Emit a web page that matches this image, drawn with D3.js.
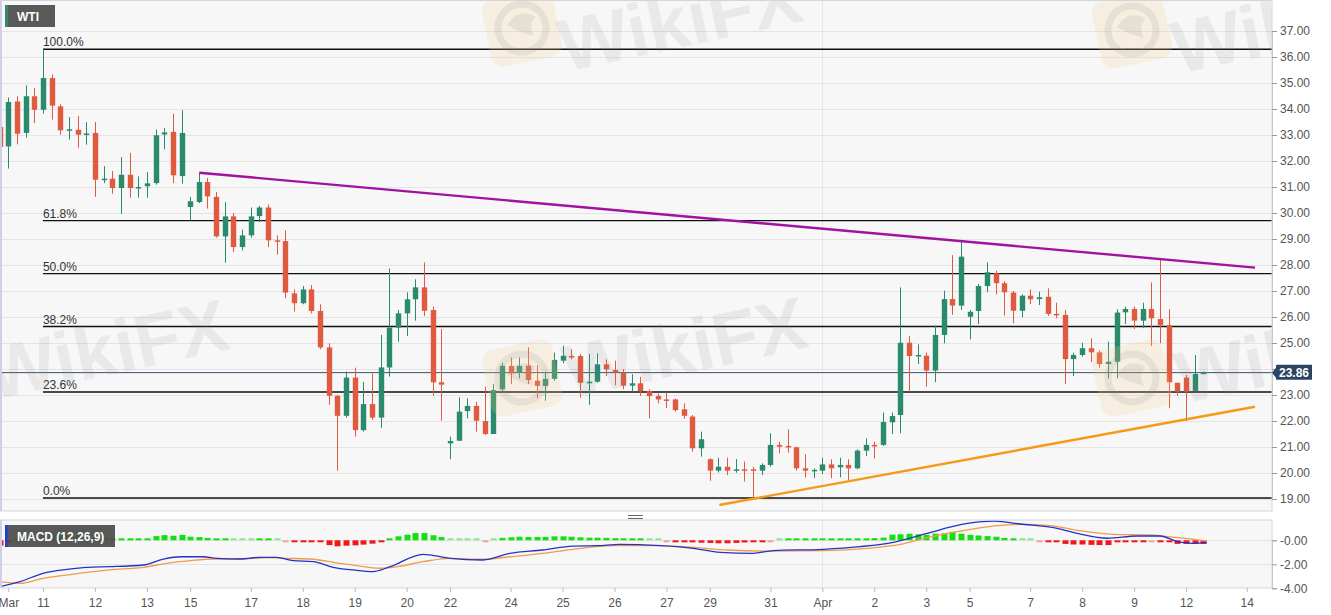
<!DOCTYPE html>
<html><head><meta charset="utf-8">
<script src="https://cdn.jsdelivr.net/npm/d3@7"></script>
<style>body{margin:0;background:#fff;}svg{display:block;font-family:"Liberation Sans",Arial,sans-serif;}</style>
</head><body>
<svg id="chart" width="1331" height="615"></svg>
<script>
// ---------- DATA (4H candles, index -1 .. 138) ----------
const firstIndex = -1;
const opens = [33.31,32.56,34.29,33.08,34.49,33.97,35.19,34.1,33.2,33.2,33.05,33.08,31.28,31.32,30.96,31.47,30.99,31.03,31.15,33.02,33.12,31.42,30.23,30.42,31.19,30.62,29.1,29.87,28.69,29.14,29.88,30.21,28.95,28.92,26.91,26.53,27.06,26.23,24.83,22.97,22.2,23.67,21.65,22.65,22.13,24.06,25.59,26.14,26.68,27.14,26.27,23.49,21.14,21.24,22.38,22.58,22.0,21.5,23.22,24.12,23.86,24.13,23.55,23.35,23.62,24.32,24.5,24.5,23.47,23.51,24.18,23.96,23.87,23.36,23.45,23.15,22.96,22.83,22.83,22.45,22.17,20.95,20.53,20.09,20.24,20.12,20.14,20.14,20.09,20.31,21.08,21.04,20.99,20.18,20.08,20.09,20.33,20.22,20.31,20.18,20.86,21.08,21.08,21.95,22.23,25.01,24.5,24.51,23.94,25.31,26.69,26.44,26.01,26.23,27.19,27.68,27.3,26.94,26.24,26.82,26.69,26.78,26.12,26.08,24.38,24.54,24.8,24.64,24.19,24.28,26.18,26.31,25.86,26.31,25.92,25.69,23.47,23.67,23.16,23.83];
const highs = [33.5,34.44,34.49,34.91,34.81,36.3,35.33,34.18,33.69,33.73,33.5,33.5,31.8,31.62,32.15,32.31,31.41,31.58,33.21,33.27,33.82,33.95,30.62,31.54,31.35,30.81,30.42,30.0,29.36,30.21,30.27,30.33,29.14,29.33,27.06,27.19,27.23,26.49,24.99,23.0,23.9,24.05,23.51,23.83,25.31,27.87,26.27,26.95,27.45,28.1,26.4,25.54,21.4,22.91,22.87,22.74,23.32,23.42,24.24,24.44,24.44,24.83,24.15,23.9,24.63,24.9,24.76,24.58,24.58,24.6,24.37,24.32,23.99,23.8,23.7,23.22,23.06,23.09,22.87,22.68,22.23,21.59,20.57,20.59,20.59,20.54,20.44,20.24,20.37,21.53,21.2,21.68,21.01,20.72,20.18,20.59,20.53,20.59,20.53,20.91,21.33,21.2,22.32,22.32,27.14,25.27,24.95,24.63,25.67,27.01,28.38,28.9,26.27,27.27,28.1,27.78,27.38,27.0,26.87,27.06,26.97,27.1,26.55,26.27,24.63,25.01,25.18,24.71,25.05,26.3,26.4,26.4,26.55,27.33,28.22,26.3,23.47,23.77,24.54,23.9];
const lows = [32.28,31.71,32.64,32.9,33.46,33.82,33.59,33.01,32.82,32.51,32.63,30.62,31.15,30.74,29.97,30.59,30.59,30.59,31.09,32.45,31.15,31.13,29.72,30.38,30.17,29.05,28.09,28.5,28.56,29.05,29.65,28.69,28.4,26.72,26.21,26.49,26.14,24.76,22.62,20.09,22.13,21.4,21.59,22.04,21.74,23.71,25.05,25.27,25.86,26.04,22.97,22.01,20.53,21.24,22.1,21.59,21.46,21.5,23.13,23.42,23.64,23.42,22.87,22.78,23.55,24.22,24.37,22.9,22.62,23.47,23.73,23.38,23.22,23.13,22.96,22.1,22.68,22.49,22.36,22.08,20.82,20.63,19.7,20.02,19.92,20.01,19.67,19.03,19.92,20.24,20.76,20.78,20.09,19.83,19.8,19.96,19.8,19.83,19.73,20.14,20.65,20.56,21.04,21.5,21.53,23.13,24.19,23.32,23.49,24.99,26.08,26.27,25.14,25.73,26.95,26.87,26.05,25.76,25.99,26.5,26.46,26.04,25.95,23.42,23.73,24.47,24.27,24.05,23.64,23.64,25.73,25.54,25.57,24.88,24.99,22.49,22.97,22.0,23.15,23.8];
const closes = [32.54,34.27,33.05,34.49,33.97,35.19,34.13,33.18,33.22,33.01,33.06,31.28,31.32,30.96,31.47,30.96,31.0,31.14,32.99,33.1,31.45,33.08,30.45,31.19,30.64,29.1,29.87,28.69,29.14,29.87,30.21,28.95,28.9,26.94,26.53,27.06,26.23,24.83,22.97,22.2,23.67,21.65,22.65,22.13,24.06,25.59,26.14,26.68,27.14,26.24,23.49,23.4,21.23,22.36,22.58,22.01,21.5,23.19,24.12,23.83,24.12,23.58,23.35,23.62,24.35,24.51,24.47,23.47,23.51,24.18,23.99,23.87,23.36,23.45,23.15,22.96,22.83,22.81,22.42,22.2,20.95,21.3,20.09,20.24,20.09,20.14,20.09,20.12,20.31,21.08,21.01,20.99,20.18,20.09,20.12,20.33,20.18,20.31,20.18,20.86,21.08,21.04,21.96,22.19,25.01,24.5,24.54,23.94,25.31,26.69,26.44,28.32,26.2,27.19,27.72,27.3,26.95,26.24,26.82,26.68,26.76,26.12,26.08,24.38,24.54,24.8,24.64,24.19,24.28,26.17,26.31,25.86,26.31,25.95,25.69,23.49,23.13,23.13,23.81,23.86];

const priceTicks = [19,20,21,22,23,24,25,26,27,28,29,30,31,32,33,34,35,36,37];
const dayLabels = ["Mar","11","12","13","15","17","18","19","20","22","24","25","26","27","29","31","Apr","2","3","5","7","8","9","12","14"];
const dayIndex  = [0,4,10,16,21,28,34,40,46,51,58,64,70,76,81,88,94,100,106,111,118,124,130,136,143];
const monthLineIndex = [94];

const fibLevels = [100, 61.8, 50, 38.2, 23.6, 0];
const swingHigh = 36.3, swingLow = 19.04, swingIndex = 4;

const resistIdx = [22.05, 143.96], resistVal = [31.55, 27.9];
const supportIdx = [82.1, 143.96], supportVal = [18.77, 22.55];
const lastPrice = 23.86;

const macdIdx = [-0.96,1.35,4,6.8,9.1,11.7,15.6,17.9,20,22.5,24.1,26.8,29,31,32.9,35.2,37.5,39.8,42.1,44.1,47.9,51,54.8,57.9,61.7,65.2,68,70.6,75.3,79.1,82.2,86,88.3,94.1,98.3,102.2,106.1,110.1,113.9,116.8,121.1,123.7,126.9,130.3,133,135,136.8,138.4];
const macdVals = [-3.87,-3.45,-2.75,-2.42,-2.25,-2.2,-2.06,-1.56,-1.37,-1.37,-1.5,-1.56,-1.42,-1.42,-1.7,-1.78,-2.25,-2.47,-2.61,-2.2,-1.17,-1.5,-1.64,-1.09,-0.81,-0.48,-0.45,-0.34,-0.45,-0.67,-1.0,-1.09,-0.86,-0.75,-0.53,-0.17,0.58,1.33,1.6,1.36,1.0,0.53,0.17,0.36,0.36,-0.11,-0.25,-0.2];
const signalIdx = [-0.96,1.35,4,6.8,9.1,11.7,15.6,18.3,21,23.6,26.8,29.9,32.2,35.2,37.7,39.8,42.9,44.9,47.9,51,54.8,57.9,61.7,65.2,69.8,75.3,79.1,83,88,94.1,99.2,103,106.1,110.1,113.9,116.8,120.3,123.7,127.6,131.8,135,138.4];
const signalVals = [-3.45,-3.59,-3.17,-2.89,-2.67,-2.47,-2.25,-1.92,-1.7,-1.56,-1.56,-1.45,-1.5,-1.58,-1.86,-2.06,-2.33,-2.2,-1.78,-1.5,-1.58,-1.37,-1.09,-0.75,-0.45,-0.45,-0.59,-0.81,-0.9,-0.86,-0.67,-0.34,0.22,0.78,1.2,1.33,1.22,0.8,0.5,0.44,0.22,-0.06];
const histVals = [-0.45,
 -0.1,0.1,0.25,0.35,0.42,0.45,0.47,0.45,0.42,0.36,
 0.28,0.15,0.14,0.14,0.14,0.14,0.16,0.35,0.43,0.38,
 0.45,0.3,0.27,0.2,0.08,0.05,0.01,0.01,0.04,0.05,
 0.05,0.04,-0.03,-0.12,-0.12,-0.12,-0.14,-0.4,-0.5,-0.45,
 -0.42,-0.36,-0.28,-0.08,0.12,0.33,0.47,0.6,0.6,0.42,
 0.27,0.04,0.02,0.02,0.02,-0.04,0.03,0.2,0.25,0.3,
 0.28,0.28,0.28,0.33,0.33,0.3,0.25,0.22,0.22,0.2,
 0.18,0.14,0.1,0.06,0.03,0.02,-0.03,-0.05,-0.1,-0.17,
 -0.2,-0.22,-0.25,-0.25,-0.22,-0.18,-0.12,-0.08,-0.03,0.02,
 0.05,0.06,0.06,0.07,0.07,0.08,0.08,0.1,0.12,0.15,
 0.18,0.22,0.47,0.5,0.55,0.5,0.45,0.55,0.58,0.7,
 0.55,0.45,0.4,0.35,0.3,0.2,0.1,0.04,0.01,-0.03,
 -0.08,-0.12,-0.3,-0.35,-0.35,-0.38,-0.4,-0.4,-0.15,-0.12,
 -0.12,-0.06,-0.04,-0.05,-0.15,-0.3,-0.3,-0.3,-0.3];
const macdTicks = [0,-2,-4];
const macdTickLabels = ["-0.00","-2.00","-4.00"];

// ---------- LAYOUT ----------
const W = 1331, H = 615;
const plotL = 0.5, plotR = 1272;
const mainT = 0.5, mainB = 511;
const macdT = 520, macdB = 588;
const GREEN = "#2a8a6d", RED = "#e05a40";

const svg = d3.select("#chart");
const x = d3.scaleLinear().domain([0,143]).range([8.3,1246.7]);
const y = d3.scaleLinear().domain([19,37]).range([499,31]);
const ym = d3.scaleLinear().domain([0,-4]).range([540.3,588.3]);

svg.append("rect").attr("width",W).attr("height",H).attr("fill","#fff");
const defs = svg.append("defs");
defs.append("clipPath").attr("id","clipMain").append("rect")
  .attr("x",plotL).attr("y",mainT).attr("width",plotR-plotL).attr("height",mainB-mainT);
defs.append("clipPath").attr("id","clipMacd").append("rect")
  .attr("x",plotL).attr("y",macdT).attr("width",plotR-plotL).attr("height",macdB-macdT);

svg.append("rect").attr("x",plotL).attr("y",mainT).attr("width",plotR-plotL).attr("height",mainB-mainT).attr("fill","#f7f7f7");
svg.append("rect").attr("x",plotL).attr("y",macdT).attr("width",plotR-plotL).attr("height",macdB-macdT).attr("fill","#f7f7f7");

const gMain = svg.append("g").attr("clip-path","url(#clipMain)");
const gMacd = svg.append("g").attr("clip-path","url(#clipMacd)");

// grid
gMain.selectAll(".hg").data(priceTicks).enter().append("line")
  .attr("x1",plotL).attr("x2",plotR).attr("y1",d=>Math.round(y(d))+0.5).attr("y2",d=>Math.round(y(d))+0.5)
  .attr("stroke","#e4e4e4").attr("stroke-width",1);
gMain.selectAll(".vg").data(monthLineIndex).enter().append("line")
  .attr("x1",d=>Math.round(x(d))+0.5).attr("x2",d=>Math.round(x(d))+0.5).attr("y1",mainT).attr("y2",mainB)
  .attr("stroke","#e6e6e6");
gMacd.selectAll(".hgm").data(macdTicks).enter().append("line")
  .attr("x1",plotL).attr("x2",plotR).attr("y1",d=>Math.round(ym(d))+0.5).attr("y2",d=>Math.round(ym(d))+0.5)
  .attr("stroke","#e2e2e2");
gMacd.selectAll(".vgm").data(monthLineIndex).enter().append("line")
  .attr("x1",d=>Math.round(x(d))+0.5).attr("x2",d=>Math.round(x(d))+0.5).attr("y1",macdT).attr("y2",macdB)
  .attr("stroke","#e6e6e6");

// watermarks
function watermark(g, lx, ly, tx, ty, showLogo){
  const w = g.append("g");
  if(showLogo){
    const lg = w.append("g").attr("transform",`translate(${lx},${ly}) rotate(-12)`);
    lg.append("rect").attr("x",-36).attr("y",-34).attr("width",72).attr("height",68).attr("rx",12)
      .attr("fill","#f6d48a").attr("opacity",0.2);
    lg.append("circle").attr("r",24).attr("fill","none").attr("stroke","#8a8080").attr("stroke-width",7).attr("opacity",0.14);
    lg.append("path").attr("d","M-14,-6 Q0,-22 16,-8 Q6,-2 10,10 Q-4,4 -14,-6Z").attr("fill","#8a8080").attr("opacity",0.14);
  }
  w.append("text").attr("transform",`translate(${tx},${ty}) rotate(-12)`)
    .attr("font-size",74).attr("font-weight","bold").attr("fill","#8a8080").attr("opacity",0.12)
    .text("WikiFX");
}
const gWM = svg.append("g").attr("clip-path","url(#clipMain)");
watermark(gWM, 522, 28, 565, 72, true);
watermark(gWM, 1132, 30, 1178, 74, true);
watermark(gWM, -60, 370, -8, 400, false);
watermark(gWM, 522, 378, 570, 398, true);
watermark(gWM, 1132, 378, 1182, 404, true);

// fibonacci retracement
const fibData = fibLevels.map(l => ({l, p: swingLow + (swingHigh-swingLow)*l/100}));
gMain.selectAll(".fib").data(fibData).enter().append("line")
  .attr("x1",x(swingIndex)).attr("x2",plotR).attr("y1",d=>y(d.p)).attr("y2",d=>y(d.p))
  .attr("stroke","#111").attr("stroke-width",1.4);
gMain.selectAll(".fibt").data(fibData).enter().append("text")
  .attr("x",x(swingIndex)).attr("y",d=>y(d.p)-3).attr("font-size",12).attr("fill","#333")
  .text(d=>d.l.toFixed(1)+"%");

// last price line
gMain.append("line").attr("x1",plotL).attr("x2",plotR).attr("y1",y(lastPrice)).attr("y2",y(lastPrice))
  .attr("stroke","#3a5070").attr("stroke-width",1);

// candles
const candles = opens.map((o,k)=>({i:firstIndex+k,o,h:highs[k],l:lows[k],c:closes[k]}));
const bw = 5.4;
const cg = gMain.append("g");
cg.selectAll(".wick").data(candles).enter().append("line")
  .attr("x1",d=>Math.round(x(d.i))+0.5).attr("x2",d=>Math.round(x(d.i))+0.5)
  .attr("y1",d=>y(d.h)).attr("y2",d=>y(d.l))
  .attr("stroke",d=>d.c>=d.o?GREEN:RED).attr("stroke-width",1);
cg.selectAll(".body").data(candles).enter().append("rect")
  .attr("x",d=>Math.round(x(d.i))+0.5-bw/2).attr("width",bw)
  .attr("y",d=>Math.min(y(d.o),y(d.c)))
  .attr("height",d=>Math.max(1.5,Math.abs(y(d.o)-y(d.c))))
  .attr("fill",d=>d.c>=d.o?GREEN:RED);

// trend lines
const lineP = d3.line().x(d=>x(d[0])).y(d=>y(d[1]));
gMain.append("path").attr("d",lineP(d3.zip(resistIdx,resistVal)))
  .attr("stroke","#a0129f").attr("stroke-width",2.4).attr("fill","none");
gMain.append("path").attr("d",lineP(d3.zip(supportIdx,supportVal)))
  .attr("stroke","#f59a18").attr("stroke-width",2.4).attr("fill","none");

// main panel border
svg.append("rect").attr("x",plotL).attr("y",mainT).attr("width",plotR-plotL).attr("height",mainB-mainT)
  .attr("fill","none").attr("stroke","#d4d4dc");
svg.append("line").attr("x1",1).attr("x2",1).attr("y1",0).attr("y2",mainB).attr("stroke","#cfcfe6").attr("stroke-width",2);

// right price axis (label hidden where the last-price tag sits)
const yAxis = d3.axisRight(y).tickValues(priceTicks).tickSize(5).tickPadding(3)
  .tickFormat(d => Math.abs(y(d)-y(lastPrice)) < 14 ? "" : d3.format(".2f")(d));
const ga = svg.append("g").attr("transform",`translate(${plotR},0)`).call(yAxis);
ga.select(".domain").attr("stroke","#c8c8d0");
ga.selectAll(".tick line").attr("stroke","#999");
ga.selectAll(".tick text").attr("fill","#555").attr("font-size",12).attr("font-family","Liberation Sans, Arial, sans-serif");

// last price tag
const ly = y(lastPrice);
svg.append("path").attr("d",`M${plotR},${ly} L${plotR+4},${ly-5} L${plotR+4},${ly-7} Q${plotR+4},${ly-8} ${plotR+5},${ly-8} L${plotR+40},${ly-8} L${plotR+40},${ly+7} L${plotR+5},${ly+7} Q${plotR+4},${ly+7} ${plotR+4},${ly+6} L${plotR+4},${ly+5} Z`)
  .attr("fill","#2b4462");
svg.append("text").attr("x",plotR+22).attr("y",ly+4.5).attr("text-anchor","middle")
  .attr("fill","#fff").attr("font-size",12).attr("font-weight","bold").text(lastPrice.toFixed(2));

// WTI label
svg.append("rect").attr("x",5).attr("y",5).attr("width",50).attr("height",22).attr("fill","#595959");
svg.append("rect").attr("x",5).attr("y",5).attr("width",3).attr("height",22).attr("fill","#2e8b6e");
svg.append("text").attr("x",17).attr("y",20.5).attr("fill","#fff").attr("font-size",12).attr("font-weight","bold").text("WTI");

// panel separator handle
svg.append("line").attr("x1",628).attr("x2",643).attr("y1",515.5).attr("y2",515.5).attr("stroke","#666");
svg.append("line").attr("x1",628).attr("x2",643).attr("y1",518.5).attr("y2",518.5).attr("stroke","#666");

// MACD histogram
const hist = histVals.map((v,k)=>({i:firstIndex+k,v}));
gMacd.selectAll(".hb").data(hist).enter().append("rect")
  .attr("x",d=>Math.round(x(d.i))+0.5-3).attr("width",6)
  .attr("y",d=>{const h=Math.max(2,Math.abs(ym(d.v)-ym(0))); return d.v>=0? ym(0)-h : ym(0);})
  .attr("height",d=>Math.max(2,Math.abs(ym(d.v)-ym(0))))
  .attr("fill",d=>{const a=Math.abs(d.v); if(d.v>=0) return a<0.045?"#8ee68e":"#12e012"; return a<0.045?"#f2a4a4":"#f01818";});

// MACD lines
const lm = d3.line().x(d=>x(d[0])).y(d=>ym(d[1])).curve(d3.curveMonotoneX);
gMacd.append("path").attr("d",lm(d3.zip(signalIdx,signalVals))).attr("stroke","#f29a4a").attr("stroke-width",1.3).attr("fill","none");
gMacd.append("path").attr("d",lm(d3.zip(macdIdx,macdVals))).attr("stroke","#2233c8").attr("stroke-width",1.3).attr("fill","none");

// MACD border
svg.append("rect").attr("x",plotL).attr("y",macdT).attr("width",plotR-plotL).attr("height",macdB-macdT)
  .attr("fill","none").attr("stroke","#d4d4dc");
svg.append("line").attr("x1",1).attr("x2",1).attr("y1",macdT).attr("y2",macdB).attr("stroke","#cfcfe6").attr("stroke-width",2);

// MACD label
svg.append("rect").attr("x",5).attr("y",525).attr("width",110).attr("height",22).attr("fill","#4a4a4a").attr("opacity",0.92);
svg.append("rect").attr("x",5).attr("y",525).attr("width",2.5).attr("height",22).attr("fill","#1a3de0");
svg.append("text").attr("x",17).attr("y",540.5).attr("fill","#fff").attr("font-size",12).attr("font-weight","bold").text("MACD (12,26,9)");

// MACD axis
const mAxis = d3.axisRight(ym).tickValues(macdTicks).tickSize(5).tickPadding(3).tickFormat((d,k)=>macdTickLabels[k]);
const gm = svg.append("g").attr("transform",`translate(${plotR},0)`).call(mAxis);
gm.select(".domain").attr("stroke","#c8c8d0");
gm.selectAll(".tick line").attr("stroke","#999");
gm.selectAll(".tick text").attr("fill","#555").attr("font-size",12).attr("font-family","Liberation Sans, Arial, sans-serif");

// time axis
const xAxis = d3.axisBottom(x).tickValues(dayIndex).tickSize(4).tickPadding(6).tickFormat((d,k)=>dayLabels[k]);
const gx = svg.append("g").attr("transform",`translate(0,${macdB})`).call(xAxis);
gx.select(".domain").remove();
gx.selectAll(".tick line").attr("stroke","#bbb");
gx.selectAll(".tick text").attr("fill","#555").attr("font-size",12).attr("font-family","Liberation Sans, Arial, sans-serif");
</script>
</body></html>
